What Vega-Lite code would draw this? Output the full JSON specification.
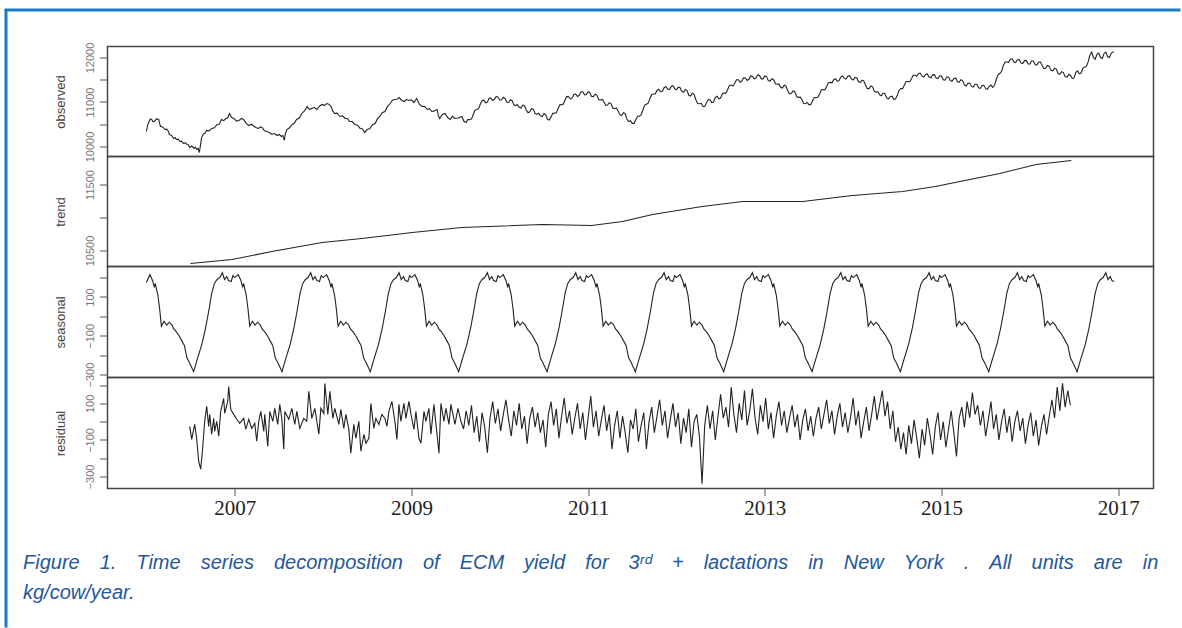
{
"$schema": "https://vega.github.io/schema/vega-lite/v6.json",
"background": "white",
"padding": {"left": 4.5, "top": 8.5, "right": 0, "bottom": 0},
"spacing": 0,
"bounds": "flush",
"config": {
  "view": {"stroke": "#454545", "strokeWidth": 1.5},
  "axis": {"domain": false, "grid": false, "tickColor": "#555", "tickWidth": 1, "labelOverlap": false, "labelFlush": false, "labelFont": "Liberation Sans", "titleFont": "Liberation Sans", "titleFontWeight": "normal"},
  "axisY": {"tickSize": 8, "labelAngle": 270, "labelAlign": "center", "labelBaseline": "bottom", "labelPadding": 4, "labelFontSize": 11, "labelColor": "#777", "titleFontSize": 13, "titleColor": "#444", "titlePadding": 17},
  "axisX": {"tickSize": 7, "labelFont": "Liberation Serif", "labelFontSize": 21, "labelColor": "#222", "labelPadding": 2}
},
"datasets": {
"obs": [
{"t":2006.00,"v":10337},{"t":2006.015,"v":10480},{"t":2006.03,"v":10562},{"t":2006.045,"v":10620},{"t":2006.06,"v":10607},{"t":2006.075,"v":10560},{"t":2006.09,"v":10562},{"t":2006.115,"v":10620},{"t":2006.14,"v":10607},{"t":2006.15,"v":10520},{"t":2006.16,"v":10450},{"t":2006.185,"v":10440},{"t":2006.21,"v":10382},{"t":2006.23,"v":10390},{"t":2006.25,"v":10337},{"t":2006.26,"v":10270},{"t":2006.285,"v":10250},{"t":2006.31,"v":10180},{"t":2006.325,"v":10200},{"t":2006.34,"v":10157},{"t":2006.36,"v":10165},{"t":2006.38,"v":10112},{"t":2006.40,"v":10120},{"t":2006.42,"v":10068},{"t":2006.44,"v":10085},{"t":2006.46,"v":10045},{"t":2006.475,"v":10040},{"t":2006.49,"v":9978},{"t":2006.515,"v":10010},{"t":2006.54,"v":9955},{"t":2006.555,"v":9985},{"t":2006.57,"v":9933},{"t":2006.585,"v":9960},{"t":2006.60,"v":9865},{"t":2006.625,"v":10200},{"t":2006.65,"v":10292},{"t":2006.665,"v":10300},{"t":2006.68,"v":10360},{"t":2006.71,"v":10350},{"t":2006.74,"v":10405},{"t":2006.77,"v":10420},{"t":2006.80,"v":10495},{"t":2006.825,"v":10500},{"t":2006.85,"v":10607},{"t":2006.875,"v":10580},{"t":2006.90,"v":10629},{"t":2006.92,"v":10640},{"t":2006.94,"v":10742},{"t":2006.965,"v":10650},{"t":2006.99,"v":10629},
{"t":2007.02,"v":10570},{"t":2007.05,"v":10584},{"t":2007.075,"v":10630},{"t":2007.10,"v":10607},{"t":2007.13,"v":10520},{"t":2007.16,"v":10472},{"t":2007.19,"v":10500},{"t":2007.22,"v":10450},{"t":2007.245,"v":10420},{"t":2007.27,"v":10405},{"t":2007.29,"v":10440},{"t":2007.31,"v":10427},{"t":2007.335,"v":10360},{"t":2007.36,"v":10337},{"t":2007.39,"v":10320},{"t":2007.42,"v":10270},{"t":2007.45,"v":10290},{"t":2007.48,"v":10247},{"t":2007.505,"v":10270},{"t":2007.53,"v":10225},{"t":2007.545,"v":10250},{"t":2007.56,"v":10135},{"t":2007.575,"v":10300},{"t":2007.59,"v":10382},{"t":2007.62,"v":10420},{"t":2007.65,"v":10495},{"t":2007.675,"v":10520},{"t":2007.70,"v":10607},{"t":2007.73,"v":10640},{"t":2007.76,"v":10742},{"t":2007.79,"v":10800},{"t":2007.82,"v":10899},{"t":2007.845,"v":10830},{"t":2007.87,"v":10854},{"t":2007.90,"v":10880},{"t":2007.93,"v":10832},{"t":2007.96,"v":10910},{"t":2007.99,"v":10944},
{"t":2008.015,"v":10920},{"t":2008.04,"v":10966},{"t":2008.065,"v":10950},{"t":2008.09,"v":10899},{"t":2008.11,"v":10800},{"t":2008.13,"v":10742},{"t":2008.16,"v":10750},{"t":2008.19,"v":10674},{"t":2008.22,"v":10690},{"t":2008.25,"v":10629},{"t":2008.275,"v":10630},{"t":2008.30,"v":10562},{"t":2008.33,"v":10560},{"t":2008.36,"v":10495},{"t":2008.39,"v":10480},{"t":2008.42,"v":10405},{"t":2008.445,"v":10400},{"t":2008.47,"v":10315},{"t":2008.50,"v":10380},{"t":2008.53,"v":10405},{"t":2008.56,"v":10490},{"t":2008.59,"v":10517},{"t":2008.615,"v":10620},{"t":2008.64,"v":10674},{"t":2008.67,"v":10760},{"t":2008.70,"v":10787},{"t":2008.73,"v":10900},{"t":2008.76,"v":10966},{"t":2008.785,"v":11040},{"t":2008.81,"v":11056},{"t":2008.835,"v":11060},{"t":2008.86,"v":11101},{"t":2008.89,"v":11040},{"t":2008.92,"v":11011},{"t":2008.945,"v":11060},{"t":2008.97,"v":11034},
{"t":2009.00,"v":11050},{"t":2009.03,"v":10989},{"t":2009.045,"v":11040},{"t":2009.06,"v":11079},{"t":2009.09,"v":10950},{"t":2009.12,"v":10899},{"t":2009.15,"v":10900},{"t":2009.18,"v":10832},{"t":2009.205,"v":10850},{"t":2009.23,"v":10787},{"t":2009.26,"v":10800},{"t":2009.29,"v":10832},{"t":2009.305,"v":10700},{"t":2009.32,"v":10629},{"t":2009.35,"v":10720},{"t":2009.38,"v":10742},{"t":2009.41,"v":10650},{"t":2009.44,"v":10607},{"t":2009.465,"v":10680},{"t":2009.49,"v":10629},{"t":2009.53,"v":10640},{"t":2009.57,"v":10674},
{"t":2009.595,"v":10567},{"t":2009.62,"v":10540},{"t":2009.64,"v":10610},{"t":2009.66,"v":10600},{"t":2009.68,"v":10620},{"t":2009.70,"v":10720},{"t":2009.72,"v":10815},{"t":2009.74,"v":10830},{"t":2009.76,"v":10850},{"t":2009.78,"v":10950},{"t":2009.80,"v":11035},{"t":2009.82,"v":11040},{"t":2009.84,"v":10980},{"t":2009.86,"v":11000},{"t":2009.88,"v":11085},{"t":2009.90,"v":11090},{"t":2009.92,"v":11035},{"t":2009.94,"v":11060},{"t":2009.96,"v":11125},{"t":2009.98,"v":11110},
{"t":2010.00,"v":11040},{"t":2010.02,"v":11050},{"t":2010.04,"v":11105},{"t":2010.06,"v":11080},{"t":2010.08,"v":10995},{"t":2010.10,"v":10990},{"t":2010.12,"v":11050},{"t":2010.14,"v":11030},{"t":2010.16,"v":10935},{"t":2010.18,"v":10920},{"t":2010.20,"v":10940},{"t":2010.22,"v":10880},{"t":2010.24,"v":10865},{"t":2010.26,"v":10930},{"t":2010.28,"v":10915},{"t":2010.30,"v":10820},{"t":2010.32,"v":10760},{"t":2010.34,"v":10780},{"t":2010.36,"v":10850},{"t":2010.38,"v":10840},{"t":2010.40,"v":10740},{"t":2010.42,"v":10720},{"t":2010.44,"v":10745},{"t":2010.46,"v":10690},{"t":2010.48,"v":10675},{"t":2010.50,"v":10740},{"t":2010.52,"v":10715},{"t":2010.54,"v":10610},{"t":2010.56,"v":10595},{"t":2010.58,"v":10660},{"t":2010.60,"v":10745},{"t":2010.62,"v":10750},{"t":2010.64,"v":10760},{"t":2010.66,"v":10850},{"t":2010.68,"v":10935},{"t":2010.70,"v":10940},{"t":2010.72,"v":10955},{"t":2010.74,"v":11050},{"t":2010.76,"v":11125},{"t":2010.78,"v":11120},{"t":2010.80,"v":11065},{"t":2010.82,"v":11090},{"t":2010.84,"v":11175},{"t":2010.86,"v":11180},{"t":2010.88,"v":11125},{"t":2010.90,"v":11150},{"t":2010.92,"v":11230},{"t":2010.94,"v":11230},{"t":2010.96,"v":11160},{"t":2010.98,"v":11170},
{"t":2011.00,"v":11230},{"t":2011.02,"v":11210},{"t":2011.04,"v":11125},{"t":2011.06,"v":11120},{"t":2011.08,"v":11175},{"t":2011.10,"v":11150},{"t":2011.12,"v":11055},{"t":2011.14,"v":11040},{"t":2011.16,"v":11060},{"t":2011.18,"v":11000},{"t":2011.20,"v":10925},{"t":2011.22,"v":10930},{"t":2011.24,"v":10985},{"t":2011.26,"v":10960},{"t":2011.28,"v":10865},{"t":2011.30,"v":10850},{"t":2011.32,"v":10865},{"t":2011.34,"v":10800},{"t":2011.36,"v":10710},{"t":2011.38,"v":10700},{"t":2011.40,"v":10760},{"t":2011.42,"v":10740},{"t":2011.44,"v":10610},{"t":2011.46,"v":10560},{"t":2011.48,"v":10580},{"t":2011.50,"v":10520},{"t":2011.52,"v":10520},{"t":2011.54,"v":10600},{"t":2011.56,"v":10680},{"t":2011.58,"v":10680},{"t":2011.60,"v":10710},{"t":2011.62,"v":10820},{"t":2011.64,"v":10925},{"t":2011.66,"v":10950},{"t":2011.68,"v":10975},{"t":2011.70,"v":11080},{"t":2011.72,"v":11170},{"t":2011.74,"v":11180},{"t":2011.76,"v":11180},{"t":2011.78,"v":11260},{"t":2011.80,"v":11285},{"t":2011.82,"v":11230},{"t":2011.84,"v":11235},{"t":2011.86,"v":11320},{"t":2011.88,"v":11345},{"t":2011.90,"v":11290},{"t":2011.92,"v":11280},{"t":2011.94,"v":11350},{"t":2011.96,"v":11365},{"t":2011.98,"v":11300},
{"t":2012.00,"v":11275},{"t":2012.02,"v":11330},{"t":2012.04,"v":11325},{"t":2012.06,"v":11240},{"t":2012.08,"v":11220},{"t":2012.10,"v":11280},{"t":2012.12,"v":11255},{"t":2012.14,"v":11150},{"t":2012.16,"v":11135},{"t":2012.18,"v":11200},{"t":2012.20,"v":11165},{"t":2012.22,"v":11050},{"t":2012.24,"v":10965},{"t":2012.26,"v":10960},{"t":2012.28,"v":10970},{"t":2012.30,"v":10900},{"t":2012.32,"v":10900},{"t":2012.34,"v":10980},{"t":2012.36,"v":11055},{"t":2012.38,"v":11050},{"t":2012.40,"v":10985},{"t":2012.42,"v":11000},{"t":2012.44,"v":11105},{"t":2012.46,"v":11130},{"t":2012.48,"v":11070},{"t":2012.50,"v":11090},{"t":2012.52,"v":11185},{"t":2012.54,"v":11200},{"t":2012.56,"v":11200},{"t":2012.58,"v":11280},{"t":2012.60,"v":11370},{"t":2012.62,"v":11380},{"t":2012.64,"v":11360},{"t":2012.66,"v":11420},{"t":2012.68,"v":11500},{"t":2012.70,"v":11500},{"t":2012.72,"v":11445},{"t":2012.74,"v":11470},{"t":2012.76,"v":11545},{"t":2012.78,"v":11540},{"t":2012.80,"v":11485},{"t":2012.82,"v":11510},{"t":2012.84,"v":11585},{"t":2012.86,"v":11580},{"t":2012.88,"v":11520},{"t":2012.90,"v":11540},{"t":2012.92,"v":11610},{"t":2012.94,"v":11600},{"t":2012.96,"v":11520},{"t":2012.98,"v":11520},
{"t":2013.00,"v":11585},{"t":2013.02,"v":11570},{"t":2013.04,"v":11480},{"t":2013.06,"v":11470},{"t":2013.08,"v":11525},{"t":2013.10,"v":11500},{"t":2013.12,"v":11410},{"t":2013.14,"v":11400},{"t":2013.16,"v":11405},{"t":2013.18,"v":11330},{"t":2013.20,"v":11315},{"t":2013.22,"v":11380},{"t":2013.24,"v":11355},{"t":2013.26,"v":11250},{"t":2013.28,"v":11180},{"t":2013.30,"v":11190},{"t":2013.32,"v":11250},{"t":2013.34,"v":11230},{"t":2013.36,"v":11125},{"t":2013.38,"v":11100},{"t":2013.40,"v":11115},{"t":2013.42,"v":11050},{"t":2013.44,"v":10965},{"t":2013.46,"v":10960},{"t":2013.48,"v":10990},{"t":2013.50,"v":10940},{"t":2013.52,"v":10940},{"t":2013.54,"v":11020},{"t":2013.56,"v":11100},{"t":2013.58,"v":11100},{"t":2013.60,"v":11100},{"t":2013.62,"v":11180},{"t":2013.64,"v":11270},{"t":2013.66,"v":11280},{"t":2013.68,"v":11275},{"t":2013.70,"v":11350},{"t":2013.72,"v":11435},{"t":2013.74,"v":11440},{"t":2013.76,"v":11430},{"t":2013.78,"v":11500},{"t":2013.80,"v":11525},{"t":2013.82,"v":11470},{"t":2013.84,"v":11475},{"t":2013.86,"v":11560},{"t":2013.88,"v":11585},{"t":2013.90,"v":11530},{"t":2013.92,"v":11515},{"t":2013.94,"v":11580},{"t":2013.96,"v":11590},{"t":2013.98,"v":11520},
{"t":2014.00,"v":11495},{"t":2014.02,"v":11550},{"t":2014.04,"v":11545},{"t":2014.06,"v":11460},{"t":2014.08,"v":11435},{"t":2014.10,"v":11490},{"t":2014.12,"v":11475},{"t":2014.14,"v":11380},{"t":2014.16,"v":11300},{"t":2014.18,"v":11300},{"t":2014.20,"v":11360},{"t":2014.22,"v":11340},{"t":2014.24,"v":11240},{"t":2014.26,"v":11220},{"t":2014.28,"v":11230},{"t":2014.30,"v":11160},{"t":2014.32,"v":11140},{"t":2014.34,"v":11200},{"t":2014.36,"v":11185},{"t":2014.38,"v":11090},{"t":2014.40,"v":11065},{"t":2014.42,"v":11120},{"t":2014.44,"v":11130},{"t":2014.46,"v":11060},{"t":2014.48,"v":11065},{"t":2014.50,"v":11150},{"t":2014.52,"v":11265},{"t":2014.54,"v":11300},{"t":2014.56,"v":11300},{"t":2014.58,"v":11380},{"t":2014.60,"v":11460},{"t":2014.62,"v":11460},{"t":2014.64,"v":11450},{"t":2014.66,"v":11520},{"t":2014.68,"v":11600},{"t":2014.70,"v":11600},{"t":2014.72,"v":11580},{"t":2014.74,"v":11640},{"t":2014.76,"v":11650},{"t":2014.78,"v":11580},{"t":2014.80,"v":11560},{"t":2014.82,"v":11620},{"t":2014.84,"v":11630},{"t":2014.86,"v":11560},{"t":2014.88,"v":11545},{"t":2014.90,"v":11610},{"t":2014.92,"v":11615},{"t":2014.94,"v":11540},{"t":2014.96,"v":11525},{"t":2014.98,"v":11590},
{"t":2015.00,"v":11585},{"t":2015.02,"v":11500},{"t":2015.04,"v":11490},{"t":2015.06,"v":11560},{"t":2015.08,"v":11560},{"t":2015.10,"v":11480},{"t":2015.12,"v":11465},{"t":2015.14,"v":11530},{"t":2015.16,"v":11535},{"t":2015.18,"v":11460},{"t":2015.20,"v":11440},{"t":2015.22,"v":11500},{"t":2015.24,"v":11480},{"t":2015.26,"v":11380},{"t":2015.28,"v":11360},{"t":2015.30,"v":11420},{"t":2015.32,"v":11425},{"t":2015.34,"v":11350},{"t":2015.36,"v":11335},{"t":2015.38,"v":11400},{"t":2015.40,"v":11400},{"t":2015.42,"v":11320},{"t":2015.44,"v":11305},{"t":2015.46,"v":11370},{"t":2015.48,"v":11375},{"t":2015.50,"v":11300},{"t":2015.52,"v":11285},{"t":2015.54,"v":11350},{"t":2015.56,"v":11380},{"t":2015.58,"v":11330},{"t":2015.60,"v":11375},{"t":2015.62,"v":11500},{"t":2015.64,"v":11610},{"t":2015.66,"v":11640},{"t":2015.68,"v":11690},{"t":2015.70,"v":11820},{"t":2015.72,"v":11900},{"t":2015.74,"v":11900},{"t":2015.76,"v":11890},{"t":2015.78,"v":11960},{"t":2015.80,"v":11970},{"t":2015.82,"v":11900},{"t":2015.84,"v":11885},{"t":2015.86,"v":11950},{"t":2015.88,"v":11955},{"t":2015.90,"v":11880},{"t":2015.92,"v":11865},{"t":2015.94,"v":11930},{"t":2015.96,"v":11935},{"t":2015.98,"v":11860},
{"t":2016.00,"v":11850},{"t":2016.02,"v":11920},{"t":2016.04,"v":11920},{"t":2016.06,"v":11840},{"t":2016.08,"v":11830},{"t":2016.10,"v":11900},{"t":2016.12,"v":11900},{"t":2016.14,"v":11820},{"t":2016.16,"v":11750},{"t":2016.18,"v":11760},{"t":2016.20,"v":11820},{"t":2016.22,"v":11800},{"t":2016.24,"v":11710},{"t":2016.26,"v":11700},{"t":2016.28,"v":11760},{"t":2016.30,"v":11740},{"t":2016.32,"v":11640},{"t":2016.34,"v":11620},{"t":2016.36,"v":11680},{"t":2016.38,"v":11660},{"t":2016.40,"v":11570},{"t":2016.42,"v":11560},{"t":2016.44,"v":11620},{"t":2016.46,"v":11600},{"t":2016.48,"v":11530},{"t":2016.50,"v":11540},{"t":2016.52,"v":11660},{"t":2016.54,"v":11700},{"t":2016.56,"v":11635},{"t":2016.58,"v":11650},{"t":2016.60,"v":11755},{"t":2016.62,"v":11780},{"t":2016.64,"v":11800},{"t":2016.66,"v":11900},{"t":2016.68,"v":12050},{"t":2016.70,"v":12120},{"t":2016.72,"v":12000},{"t":2016.74,"v":11960},{"t":2016.76,"v":12070},{"t":2016.78,"v":12100},{"t":2016.80,"v":12000},{"t":2016.82,"v":11980},{"t":2016.84,"v":12090},{"t":2016.86,"v":12120},{"t":2016.88,"v":12020},{"t":2016.90,"v":12000},{"t":2016.925,"v":12105},{"t":2016.95,"v":12130}
],
"trend": [
{"t":2006.50,"v":10303},{"t":2006.97,"v":10364},{"t":2007.42,"v":10485},{"t":2007.99,"v":10621},{"t":2008.44,"v":10682},{"t":2009.01,"v":10773},{"t":2009.57,"v":10848},{"t":2010.48,"v":10894},{"t":2011.04,"v":10879},{"t":2011.39,"v":10939},{"t":2011.73,"v":11045},{"t":2012.29,"v":11167},{"t":2012.75,"v":11242},{"t":2013.43,"v":11242},{"t":2013.99,"v":11333},{"t":2014.56,"v":11394},{"t":2014.93,"v":11470},{"t":2015.32,"v":11576},{"t":2015.66,"v":11667},{"t":2016.07,"v":11803},{"t":2016.47,"v":11864}
],
"seas": [
{"t":2006.000,"v":175},{"t":2006.040,"v":215},{"t":2006.070,"v":185},{"t":2006.090,"v":150},{"t":2006.100,"v":170},{"t":2006.130,"v":110},{"t":2006.150,"v":40},{"t":2006.170,"v":-50},{"t":2006.200,"v":-25},{"t":2006.230,"v":-45},{"t":2006.260,"v":-30},{"t":2006.290,"v":-45},{"t":2006.310,"v":-65},{"t":2006.340,"v":-80},{"t":2006.370,"v":-100},{"t":2006.400,"v":-125},{"t":2006.430,"v":-150},{"t":2006.460,"v":-215},{"t":2006.490,"v":-240},{"t":2006.535,"v":-285},{"t":2006.580,"v":-215},{"t":2006.630,"v":-140},{"t":2006.670,"v":-60},{"t":2006.705,"v":25},{"t":2006.740,"v":120},{"t":2006.770,"v":170},{"t":2006.800,"v":190},{"t":2006.830,"v":200},{"t":2006.860,"v":225},{"t":2006.885,"v":190},{"t":2006.910,"v":205},{"t":2006.930,"v":185},{"t":2006.960,"v":180},{"t":2006.980,"v":210},
{"t":2007.000,"v":200},{"t":2007.040,"v":215},{"t":2007.070,"v":185},{"t":2007.090,"v":150},{"t":2007.100,"v":170},{"t":2007.130,"v":110},{"t":2007.150,"v":40},{"t":2007.170,"v":-50},{"t":2007.200,"v":-25},{"t":2007.230,"v":-45},{"t":2007.260,"v":-30},{"t":2007.290,"v":-45},{"t":2007.310,"v":-65},{"t":2007.340,"v":-80},{"t":2007.370,"v":-100},{"t":2007.400,"v":-125},{"t":2007.430,"v":-150},{"t":2007.460,"v":-215},{"t":2007.490,"v":-240},{"t":2007.535,"v":-285},{"t":2007.580,"v":-215},{"t":2007.630,"v":-140},{"t":2007.670,"v":-60},{"t":2007.705,"v":25},{"t":2007.740,"v":120},{"t":2007.770,"v":170},{"t":2007.800,"v":190},{"t":2007.830,"v":200},{"t":2007.860,"v":225},{"t":2007.885,"v":190},{"t":2007.910,"v":205},{"t":2007.930,"v":185},{"t":2007.960,"v":180},{"t":2007.980,"v":210},
{"t":2008.000,"v":200},{"t":2008.040,"v":215},{"t":2008.070,"v":185},{"t":2008.090,"v":150},{"t":2008.100,"v":170},{"t":2008.130,"v":110},{"t":2008.150,"v":40},{"t":2008.170,"v":-50},{"t":2008.200,"v":-25},{"t":2008.230,"v":-45},{"t":2008.260,"v":-30},{"t":2008.290,"v":-45},{"t":2008.310,"v":-65},{"t":2008.340,"v":-80},{"t":2008.370,"v":-100},{"t":2008.400,"v":-125},{"t":2008.430,"v":-150},{"t":2008.460,"v":-215},{"t":2008.490,"v":-240},{"t":2008.535,"v":-285},{"t":2008.580,"v":-215},{"t":2008.630,"v":-140},{"t":2008.670,"v":-60},{"t":2008.705,"v":25},{"t":2008.740,"v":120},{"t":2008.770,"v":170},{"t":2008.800,"v":190},{"t":2008.830,"v":200},{"t":2008.860,"v":225},{"t":2008.885,"v":190},{"t":2008.910,"v":205},{"t":2008.930,"v":185},{"t":2008.960,"v":180},{"t":2008.980,"v":210},
{"t":2009.000,"v":200},{"t":2009.040,"v":215},{"t":2009.070,"v":185},{"t":2009.090,"v":150},{"t":2009.100,"v":170},{"t":2009.130,"v":110},{"t":2009.150,"v":40},{"t":2009.170,"v":-50},{"t":2009.200,"v":-25},{"t":2009.230,"v":-45},{"t":2009.260,"v":-30},{"t":2009.290,"v":-45},{"t":2009.310,"v":-65},{"t":2009.340,"v":-80},{"t":2009.370,"v":-100},{"t":2009.400,"v":-125},{"t":2009.430,"v":-150},{"t":2009.460,"v":-215},{"t":2009.490,"v":-240},{"t":2009.535,"v":-285},{"t":2009.580,"v":-215},{"t":2009.630,"v":-140},{"t":2009.670,"v":-60},{"t":2009.705,"v":25},{"t":2009.740,"v":120},{"t":2009.770,"v":170},{"t":2009.800,"v":190},{"t":2009.830,"v":200},{"t":2009.860,"v":225},{"t":2009.885,"v":190},{"t":2009.910,"v":205},{"t":2009.930,"v":185},{"t":2009.960,"v":180},{"t":2009.980,"v":210},
{"t":2010.000,"v":200},{"t":2010.040,"v":215},{"t":2010.070,"v":185},{"t":2010.090,"v":150},{"t":2010.100,"v":170},{"t":2010.130,"v":110},{"t":2010.150,"v":40},{"t":2010.170,"v":-50},{"t":2010.200,"v":-25},{"t":2010.230,"v":-45},{"t":2010.260,"v":-30},{"t":2010.290,"v":-45},{"t":2010.310,"v":-65},{"t":2010.340,"v":-80},{"t":2010.370,"v":-100},{"t":2010.400,"v":-125},{"t":2010.430,"v":-150},{"t":2010.460,"v":-215},{"t":2010.490,"v":-240},{"t":2010.535,"v":-285},{"t":2010.580,"v":-215},{"t":2010.630,"v":-140},{"t":2010.670,"v":-60},{"t":2010.705,"v":25},{"t":2010.740,"v":120},{"t":2010.770,"v":170},{"t":2010.800,"v":190},{"t":2010.830,"v":200},{"t":2010.860,"v":225},{"t":2010.885,"v":190},{"t":2010.910,"v":205},{"t":2010.930,"v":185},{"t":2010.960,"v":180},{"t":2010.980,"v":210},
{"t":2011.000,"v":200},{"t":2011.040,"v":215},{"t":2011.070,"v":185},{"t":2011.090,"v":150},{"t":2011.100,"v":170},{"t":2011.130,"v":110},{"t":2011.150,"v":40},{"t":2011.170,"v":-50},{"t":2011.200,"v":-25},{"t":2011.230,"v":-45},{"t":2011.260,"v":-30},{"t":2011.290,"v":-45},{"t":2011.310,"v":-65},{"t":2011.340,"v":-80},{"t":2011.370,"v":-100},{"t":2011.400,"v":-125},{"t":2011.430,"v":-150},{"t":2011.460,"v":-215},{"t":2011.490,"v":-240},{"t":2011.535,"v":-285},{"t":2011.580,"v":-215},{"t":2011.630,"v":-140},{"t":2011.670,"v":-60},{"t":2011.705,"v":25},{"t":2011.740,"v":120},{"t":2011.770,"v":170},{"t":2011.800,"v":190},{"t":2011.830,"v":200},{"t":2011.860,"v":225},{"t":2011.885,"v":190},{"t":2011.910,"v":205},{"t":2011.930,"v":185},{"t":2011.960,"v":180},{"t":2011.980,"v":210},
{"t":2012.000,"v":200},{"t":2012.040,"v":215},{"t":2012.070,"v":185},{"t":2012.090,"v":150},{"t":2012.100,"v":170},{"t":2012.130,"v":110},{"t":2012.150,"v":40},{"t":2012.170,"v":-50},{"t":2012.200,"v":-25},{"t":2012.230,"v":-45},{"t":2012.260,"v":-30},{"t":2012.290,"v":-45},{"t":2012.310,"v":-65},{"t":2012.340,"v":-80},{"t":2012.370,"v":-100},{"t":2012.400,"v":-125},{"t":2012.430,"v":-150},{"t":2012.460,"v":-215},{"t":2012.490,"v":-240},{"t":2012.535,"v":-285},{"t":2012.580,"v":-215},{"t":2012.630,"v":-140},{"t":2012.670,"v":-60},{"t":2012.705,"v":25},{"t":2012.740,"v":120},{"t":2012.770,"v":170},{"t":2012.800,"v":190},{"t":2012.830,"v":200},{"t":2012.860,"v":225},{"t":2012.885,"v":190},{"t":2012.910,"v":205},{"t":2012.930,"v":185},{"t":2012.960,"v":180},{"t":2012.980,"v":210},
{"t":2013.000,"v":200},{"t":2013.040,"v":215},{"t":2013.070,"v":185},{"t":2013.090,"v":150},{"t":2013.100,"v":170},{"t":2013.130,"v":110},{"t":2013.150,"v":40},{"t":2013.170,"v":-50},{"t":2013.200,"v":-25},{"t":2013.230,"v":-45},{"t":2013.260,"v":-30},{"t":2013.290,"v":-45},{"t":2013.310,"v":-65},{"t":2013.340,"v":-80},{"t":2013.370,"v":-100},{"t":2013.400,"v":-125},{"t":2013.430,"v":-150},{"t":2013.460,"v":-215},{"t":2013.490,"v":-240},{"t":2013.535,"v":-285},{"t":2013.580,"v":-215},{"t":2013.630,"v":-140},{"t":2013.670,"v":-60},{"t":2013.705,"v":25},{"t":2013.740,"v":120},{"t":2013.770,"v":170},{"t":2013.800,"v":190},{"t":2013.830,"v":200},{"t":2013.860,"v":225},{"t":2013.885,"v":190},{"t":2013.910,"v":205},{"t":2013.930,"v":185},{"t":2013.960,"v":180},{"t":2013.980,"v":210},
{"t":2014.000,"v":200},{"t":2014.040,"v":215},{"t":2014.070,"v":185},{"t":2014.090,"v":150},{"t":2014.100,"v":170},{"t":2014.130,"v":110},{"t":2014.150,"v":40},{"t":2014.170,"v":-50},{"t":2014.200,"v":-25},{"t":2014.230,"v":-45},{"t":2014.260,"v":-30},{"t":2014.290,"v":-45},{"t":2014.310,"v":-65},{"t":2014.340,"v":-80},{"t":2014.370,"v":-100},{"t":2014.400,"v":-125},{"t":2014.430,"v":-150},{"t":2014.460,"v":-215},{"t":2014.490,"v":-240},{"t":2014.535,"v":-285},{"t":2014.580,"v":-215},{"t":2014.630,"v":-140},{"t":2014.670,"v":-60},{"t":2014.705,"v":25},{"t":2014.740,"v":120},{"t":2014.770,"v":170},{"t":2014.800,"v":190},{"t":2014.830,"v":200},{"t":2014.860,"v":225},{"t":2014.885,"v":190},{"t":2014.910,"v":205},{"t":2014.930,"v":185},{"t":2014.960,"v":180},{"t":2014.980,"v":210},
{"t":2015.000,"v":200},{"t":2015.040,"v":215},{"t":2015.070,"v":185},{"t":2015.090,"v":150},{"t":2015.100,"v":170},{"t":2015.130,"v":110},{"t":2015.150,"v":40},{"t":2015.170,"v":-50},{"t":2015.200,"v":-25},{"t":2015.230,"v":-45},{"t":2015.260,"v":-30},{"t":2015.290,"v":-45},{"t":2015.310,"v":-65},{"t":2015.340,"v":-80},{"t":2015.370,"v":-100},{"t":2015.400,"v":-125},{"t":2015.430,"v":-150},{"t":2015.460,"v":-215},{"t":2015.490,"v":-240},{"t":2015.535,"v":-285},{"t":2015.580,"v":-215},{"t":2015.630,"v":-140},{"t":2015.670,"v":-60},{"t":2015.705,"v":25},{"t":2015.740,"v":120},{"t":2015.770,"v":170},{"t":2015.800,"v":190},{"t":2015.830,"v":200},{"t":2015.860,"v":225},{"t":2015.885,"v":190},{"t":2015.910,"v":205},{"t":2015.930,"v":185},{"t":2015.960,"v":180},{"t":2015.980,"v":210},
{"t":2016.000,"v":200},{"t":2016.040,"v":215},{"t":2016.070,"v":185},{"t":2016.090,"v":150},{"t":2016.100,"v":170},{"t":2016.130,"v":110},{"t":2016.150,"v":40},{"t":2016.170,"v":-50},{"t":2016.200,"v":-25},{"t":2016.230,"v":-45},{"t":2016.260,"v":-30},{"t":2016.290,"v":-45},{"t":2016.310,"v":-65},{"t":2016.340,"v":-80},{"t":2016.370,"v":-100},{"t":2016.400,"v":-125},{"t":2016.430,"v":-150},{"t":2016.460,"v":-215},{"t":2016.490,"v":-240},{"t":2016.535,"v":-285},{"t":2016.580,"v":-215},{"t":2016.630,"v":-140},{"t":2016.670,"v":-60},{"t":2016.705,"v":25},{"t":2016.740,"v":120},{"t":2016.770,"v":170},{"t":2016.800,"v":190},{"t":2016.830,"v":200},{"t":2016.860,"v":225},{"t":2016.885,"v":190},{"t":2016.910,"v":205},{"t":2016.930,"v":185},{"t":2016.955,"v":180}
],
"resid": [
{"t":2006.490,"v":-26},{"t":2006.513,"v":-97},{"t":2006.547,"v":-15},{"t":2006.569,"v":-91},{"t":2006.592,"v":-217},{"t":2006.615,"v":-260},{"t":2006.637,"v":-146},{"t":2006.660,"v":2},{"t":2006.683,"v":84},{"t":2006.705,"v":-26},{"t":2006.717,"v":40},{"t":2006.739,"v":-69},{"t":2006.762,"v":18},{"t":2006.773,"v":-53},{"t":2006.796,"v":2},{"t":2006.819,"v":-80},{"t":2006.841,"v":56},{"t":2006.875,"v":127},{"t":2006.887,"v":45},{"t":2006.921,"v":111},{"t":2006.932,"v":193},{"t":2006.955,"v":67},{"t":2006.989,"v":40},
{"t":2007.023,"v":13},{"t":2007.057,"v":-9},{"t":2007.102,"v":18},{"t":2007.125,"v":-42},{"t":2007.159,"v":13},{"t":2007.193,"v":-37},{"t":2007.227,"v":-9},{"t":2007.249,"v":-107},{"t":2007.272,"v":2},{"t":2007.295,"v":56},{"t":2007.329,"v":-53},{"t":2007.340,"v":40},{"t":2007.374,"v":-135},{"t":2007.397,"v":56},{"t":2007.431,"v":2},{"t":2007.453,"v":73},{"t":2007.487,"v":-15},{"t":2007.510,"v":95},{"t":2007.533,"v":18},{"t":2007.555,"v":-151},{"t":2007.567,"v":56},{"t":2007.612,"v":13},{"t":2007.646,"v":73},{"t":2007.680,"v":-15},{"t":2007.703,"v":56},{"t":2007.737,"v":-37},{"t":2007.782,"v":18},{"t":2007.816,"v":2},{"t":2007.839,"v":166},{"t":2007.873,"v":18},{"t":2007.907,"v":73},{"t":2007.952,"v":-69},{"t":2007.975,"v":73},
{"t":2008.009,"v":45},{"t":2008.020,"v":209},{"t":2008.054,"v":40},{"t":2008.077,"v":166},{"t":2008.111,"v":18},{"t":2008.133,"v":73},{"t":2008.179,"v":-15},{"t":2008.201,"v":67},{"t":2008.235,"v":-37},{"t":2008.258,"v":40},{"t":2008.292,"v":-42},{"t":2008.314,"v":-173},{"t":2008.348,"v":-15},{"t":2008.371,"v":-91},{"t":2008.405,"v":2},{"t":2008.428,"v":-162},{"t":2008.462,"v":-69},{"t":2008.485,"v":-118},{"t":2008.519,"v":-91},{"t":2008.541,"v":100},{"t":2008.575,"v":-37},{"t":2008.598,"v":18},{"t":2008.632,"v":-15},{"t":2008.666,"v":40},{"t":2008.700,"v":18},{"t":2008.723,"v":-26},{"t":2008.745,"v":56},{"t":2008.779,"v":111},{"t":2008.813,"v":2},{"t":2008.836,"v":-97},{"t":2008.859,"v":95},{"t":2008.881,"v":2},{"t":2008.915,"v":100},{"t":2008.938,"v":18},{"t":2008.972,"v":111},{"t":2008.995,"v":40},
{"t":2009.029,"v":-42},{"t":2009.051,"v":56},{"t":2009.085,"v":-91},{"t":2009.108,"v":-118},{"t":2009.142,"v":56},{"t":2009.164,"v":2},{"t":2009.198,"v":73},{"t":2009.221,"v":-69},{"t":2009.255,"v":95},{"t":2009.278,"v":-15},{"t":2009.312,"v":-173},{"t":2009.334,"v":100},{"t":2009.368,"v":2},{"t":2009.391,"v":73},{"t":2009.425,"v":-15},{"t":2009.447,"v":95},{"t":2009.493,"v":-15},{"t":2009.527,"v":73},{"t":2009.561,"v":2},{"t":2009.59,"v":-40},{"t":2009.62,"v":60},{"t":2009.65,"v":-20},{"t":2009.68,"v":90},{"t":2009.71,"v":-60},{"t":2009.74,"v":30},{"t":2009.77,"v":-110},{"t":2009.80,"v":50},{"t":2009.83,"v":-30},{"t":2009.86,"v":-170},{"t":2009.89,"v":20},{"t":2009.92,"v":110},{"t":2009.95,"v":-10},{"t":2009.98,"v":70},
{"t":2010.01,"v":-50},{"t":2010.04,"v":40},{"t":2010.07,"v":120},{"t":2010.10,"v":10},{"t":2010.13,"v":-80},{"t":2010.16,"v":60},{"t":2010.19,"v":-20},{"t":2010.22,"v":100},{"t":2010.25,"v":-40},{"t":2010.28,"v":30},{"t":2010.31,"v":-120},{"t":2010.34,"v":20},{"t":2010.37,"v":80},{"t":2010.40,"v":-30},{"t":2010.43,"v":50},{"t":2010.46,"v":-60},{"t":2010.49,"v":10},{"t":2010.52,"v":-140},{"t":2010.55,"v":40},{"t":2010.58,"v":110},{"t":2010.61,"v":-20},{"t":2010.64,"v":70},{"t":2010.67,"v":-90},{"t":2010.70,"v":30},{"t":2010.73,"v":130},{"t":2010.76,"v":-10},{"t":2010.79,"v":60},{"t":2010.82,"v":-70},{"t":2010.85,"v":20},{"t":2010.88,"v":100},{"t":2010.91,"v":-40},{"t":2010.94,"v":50},{"t":2010.97,"v":-100},
{"t":2011.00,"v":20},{"t":2011.03,"v":140},{"t":2011.06,"v":-30},{"t":2011.09,"v":60},{"t":2011.12,"v":-80},{"t":2011.15,"v":10},{"t":2011.18,"v":90},{"t":2011.21,"v":-50},{"t":2011.24,"v":40},{"t":2011.27,"v":-150},{"t":2011.30,"v":-20},{"t":2011.33,"v":60},{"t":2011.36,"v":-90},{"t":2011.39,"v":30},{"t":2011.42,"v":-60},{"t":2011.45,"v":-170},{"t":2011.48,"v":10},{"t":2011.51,"v":-40},{"t":2011.54,"v":70},{"t":2011.57,"v":-110},{"t":2011.60,"v":-20},{"t":2011.63,"v":50},{"t":2011.66,"v":-150},{"t":2011.69,"v":0},{"t":2011.72,"v":80},{"t":2011.75,"v":-60},{"t":2011.78,"v":30},{"t":2011.81,"v":120},{"t":2011.84,"v":-20},{"t":2011.87,"v":60},{"t":2011.90,"v":-90},{"t":2011.93,"v":10},{"t":2011.96,"v":100},{"t":2011.99,"v":-30},
{"t":2012.02,"v":50},{"t":2012.05,"v":-120},{"t":2012.08,"v":20},{"t":2012.11,"v":-60},{"t":2012.14,"v":70},{"t":2012.17,"v":-140},{"t":2012.20,"v":0},{"t":2012.23,"v":40},{"t":2012.26,"v":-80},{"t":2012.29,"v":-340},{"t":2012.32,"v":-20},{"t":2012.35,"v":90},{"t":2012.38,"v":-40},{"t":2012.41,"v":60},{"t":2012.44,"v":-100},{"t":2012.47,"v":30},{"t":2012.50,"v":150},{"t":2012.53,"v":20},{"t":2012.56,"v":80},{"t":2012.59,"v":-30},{"t":2012.62,"v":190},{"t":2012.65,"v":40},{"t":2012.68,"v":-60},{"t":2012.71,"v":100},{"t":2012.74,"v":10},{"t":2012.77,"v":170},{"t":2012.80,"v":-20},{"t":2012.83,"v":60},{"t":2012.86,"v":180},{"t":2012.89,"v":20},{"t":2012.92,"v":-70},{"t":2012.95,"v":90},{"t":2012.98,"v":0},
{"t":2013.01,"v":130},{"t":2013.04,"v":-40},{"t":2013.07,"v":50},{"t":2013.10,"v":-90},{"t":2013.13,"v":30},{"t":2013.16,"v":110},{"t":2013.19,"v":-20},{"t":2013.22,"v":60},{"t":2013.25,"v":-60},{"t":2013.28,"v":20},{"t":2013.31,"v":90},{"t":2013.34,"v":-30},{"t":2013.37,"v":40},{"t":2013.40,"v":-100},{"t":2013.43,"v":10},{"t":2013.46,"v":70},{"t":2013.49,"v":-50},{"t":2013.52,"v":30},{"t":2013.55,"v":-80},{"t":2013.58,"v":20},{"t":2013.61,"v":80},{"t":2013.64,"v":-40},{"t":2013.67,"v":40},{"t":2013.70,"v":120},{"t":2013.73,"v":-10},{"t":2013.76,"v":60},{"t":2013.79,"v":-70},{"t":2013.82,"v":30},{"t":2013.85,"v":100},{"t":2013.88,"v":-30},{"t":2013.91,"v":50},{"t":2013.94,"v":-60},{"t":2013.97,"v":20},
{"t":2014.00,"v":130},{"t":2014.03,"v":-20},{"t":2014.06,"v":60},{"t":2014.09,"v":-90},{"t":2014.12,"v":0},{"t":2014.15,"v":80},{"t":2014.18,"v":-50},{"t":2014.21,"v":40},{"t":2014.24,"v":140},{"t":2014.27,"v":10},{"t":2014.30,"v":90},{"t":2014.33,"v":170},{"t":2014.36,"v":30},{"t":2014.39,"v":110},{"t":2014.42,"v":-40},{"t":2014.45,"v":60},{"t":2014.48,"v":-110},{"t":2014.51,"v":-30},{"t":2014.54,"v":-150},{"t":2014.57,"v":-60},{"t":2014.60,"v":-180},{"t":2014.63,"v":-20},{"t":2014.66,"v":-120},{"t":2014.69,"v":10},{"t":2014.72,"v":-90},{"t":2014.75,"v":-200},{"t":2014.78,"v":-40},{"t":2014.81,"v":-130},{"t":2014.84,"v":20},{"t":2014.87,"v":-70},{"t":2014.90,"v":-180},{"t":2014.93,"v":-30},{"t":2014.96,"v":50},{"t":2014.99,"v":-100},
{"t":2015.02,"v":0},{"t":2015.05,"v":-140},{"t":2015.08,"v":-40},{"t":2015.11,"v":60},{"t":2015.14,"v":-60},{"t":2015.17,"v":-190},{"t":2015.20,"v":20},{"t":2015.23,"v":80},{"t":2015.26,"v":-30},{"t":2015.29,"v":110},{"t":2015.32,"v":20},{"t":2015.35,"v":160},{"t":2015.38,"v":40},{"t":2015.41,"v":90},{"t":2015.44,"v":-20},{"t":2015.47,"v":60},{"t":2015.50,"v":-80},{"t":2015.53,"v":10},{"t":2015.56,"v":110},{"t":2015.59,"v":-40},{"t":2015.62,"v":40},{"t":2015.65,"v":-100},{"t":2015.68,"v":0},{"t":2015.71,"v":70},{"t":2015.74,"v":-60},{"t":2015.77,"v":30},{"t":2015.80,"v":-110},{"t":2015.83,"v":0},{"t":2015.86,"v":60},{"t":2015.89,"v":-50},{"t":2015.92,"v":20},{"t":2015.95,"v":-120},{"t":2015.98,"v":-20},
{"t":2016.01,"v":50},{"t":2016.04,"v":-80},{"t":2016.07,"v":10},{"t":2016.10,"v":-130},{"t":2016.13,"v":-30},{"t":2016.16,"v":40},{"t":2016.19,"v":-70},{"t":2016.22,"v":30},{"t":2016.25,"v":120},{"t":2016.28,"v":20},{"t":2016.31,"v":190},{"t":2016.34,"v":60},{"t":2016.37,"v":210},{"t":2016.40,"v":80},{"t":2016.43,"v":170},{"t":2016.46,"v":90}
]
},
"vconcat": [
  {"width": 1174, "height": 1, "data": {"values": []}, "mark": "point", "view": {"stroke": "#1b7bc3", "strokeWidth": 2}},
  {"hconcat": [
    {"width": 1, "height": 616, "data": {"values": []}, "mark": "point", "view": {"stroke": "#1b7bc3", "strokeWidth": 2}},
    {"vconcat": [
      {"width": 1100, "height": 35.5, "data": {"values": []}, "mark": "point", "view": {"stroke": null}},
      {"hconcat": [
        {"width": 84.5, "height": 442, "data": {"values": []}, "mark": "point", "view": {"stroke": null}},
        {"vconcat": [
          {"width": 1046, "height": 110, "data": {"name": "obs"},
           "mark": {"type": "line", "color": "#222", "strokeWidth": 1.1},
           "encoding": {
             "x": {"field": "t", "type": "quantitative", "scale": {"domain": [2005.56, 2017.40], "nice": false, "zero": false}, "axis": null},
             "y": {"field": "v", "type": "quantitative", "scale": {"domain": [9775, 12247], "nice": false, "zero": false},
                   "axis": {"title": "observed", "values": [10000, 10500, 11000, 11500, 12000], "format": "d", "labelExpr": "datum.value % 1000 == 0 ? datum.label : ''"}}
           }},
          {"width": 1046, "height": 110, "data": {"name": "trend"},
           "mark": {"type": "line", "color": "#222", "strokeWidth": 1.1},
           "encoding": {
             "x": {"field": "t", "type": "quantitative", "scale": {"domain": [2005.56, 2017.40], "nice": false, "zero": false}, "axis": null},
             "y": {"field": "v", "type": "quantitative", "scale": {"domain": [10258, 11924], "nice": false, "zero": false},
                   "axis": {"title": "trend", "values": [10500, 11000, 11500], "format": "d", "labelExpr": "datum.value == 11000 ? '' : datum.label"}}
           }},
          {"width": 1046, "height": 111, "data": {"name": "seas"},
           "mark": {"type": "line", "color": "#222", "strokeWidth": 1.1},
           "encoding": {
             "x": {"field": "t", "type": "quantitative", "scale": {"domain": [2005.56, 2017.40], "nice": false, "zero": false}, "axis": null},
             "y": {"field": "v", "type": "quantitative", "scale": {"domain": [-315, 257], "nice": false, "zero": false},
                   "axis": {"title": "seasonal", "values": [-300, -200, -100, 0, 100, 200], "format": "d", "labelExpr": "(datum.value + 300) % 200 == 0 ? datum.label : ''"}}
           }},
          {"width": 1046, "height": 111, "data": {"name": "resid"},
           "mark": {"type": "line", "color": "#222", "strokeWidth": 1.1},
           "encoding": {
             "x": {"field": "t", "type": "quantitative", "scale": {"domain": [2005.56, 2017.40], "nice": false, "zero": false},
                   "axis": {"title": null, "values": [2007, 2009, 2011, 2013, 2015, 2017], "format": "d", "labelAngle": 0}},
             "y": {"field": "v", "type": "quantitative", "scale": {"domain": [-366, 242], "nice": false, "zero": false},
                   "axis": {"title": "residual", "values": [-300, -200, -100, 0, 100, 200], "format": "d", "labelExpr": "(datum.value + 300) % 200 == 0 ? datum.label : ''"}}
           }},
          {"width": 1046, "height": 60, "data": {"values": []}, "mark": "point", "view": {"stroke": null},
           "title": {"text": ["Figure\u20031.\u2003Time\u2003series\u2003decomposition\u2003of\u2003ECM\u2003yield\u2003for\u20033ʳᵈ\u2003+\u2003lactations\u2003in\u2003New\u2003York\u2003.\u2003All\u2003units\u2003are\u2003in", "kg/cow/year."],
                     "orient": "bottom", "anchor": "start", "frame": "group", "dx": -84.5, "font": "Liberation Sans", "fontSize": 20, "fontStyle": "italic", "fontWeight": "normal", "color": "#24579c", "lineHeight": 30, "offset": 4.5, "baseline": "top"}}
        ], "spacing": 0, "bounds": "flush", "resolve": {"scale": {"x": "independent", "y": "independent"}}}
      ], "spacing": 0, "bounds": "flush"}
    ], "spacing": 0, "bounds": "flush"}
  ], "spacing": 16, "bounds": "flush"}
]
}
